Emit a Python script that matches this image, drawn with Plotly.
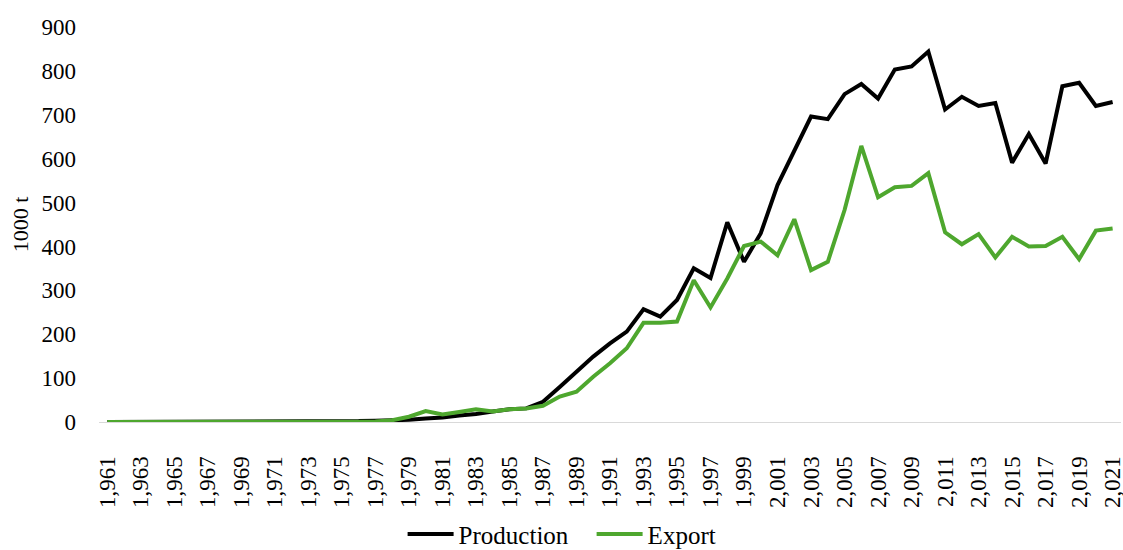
import plotly.graph_objects as go

years = list(range(1961, 2022))
tick_years = list(range(1961, 2022, 2))
tick_labels = [f"{y:,}" for y in tick_years]

production = [0, 0, 0, 0, 0, 0, 0, 0, 0, 0,
              0, 0, 0.5, 1, 2, 2, 3, 3, 5, 8,
              10, 15, 18, 24, 29, 31, 46, 80, 115, 149,
              179, 206, 257, 240, 278, 350, 328, 455, 365, 430,
              540, 620, 696, 690, 747, 770, 737, 803, 810, 844,
              712, 741, 720, 727, 591, 656, 589, 765, 773, 720,
              729]

export = [0, 0, 0, 0, 0, 0, 0, 0, 0, 0,
          0, 0, 0, 0, 0, 0, 1, 4, 12, 25,
          17, 23, 29, 24, 29, 31, 37, 58, 69, 103,
          134, 168, 226, 226, 229, 323, 261, 327, 401, 411,
          380, 462, 346, 365, 483, 629, 512, 535, 538, 567,
          432, 405, 428, 375, 422, 400, 401, 422, 371, 436,
          441]

y_ticks = [0, 100, 200, 300, 400, 500, 600, 700, 800, 900]

FONT = "Times New Roman, Liberation Serif, DejaVu Serif, serif"

fig = go.Figure()
fig.add_trace(go.Scatter(x=years, y=production, mode="lines", name="Production",
                         line=dict(color="#000000", width=4), cliponaxis=False))
fig.add_trace(go.Scatter(x=years, y=export, mode="lines", name="Export",
                         line=dict(color="#4EA72E", width=4), cliponaxis=False))

fig.update_layout(
    width=1123, height=550,
    margin=dict(l=99, r=2, t=27, b=128, autoexpand=False),
    paper_bgcolor="white", plot_bgcolor="white",
    font=dict(family=FONT, size=23, color="#000000"),
    showlegend=True,
    legend=dict(orientation="h", xref="paper", yref="paper",
                x=0.482, xanchor="center", y=-0.284, yanchor="middle",
                font=dict(family=FONT, size=25), itemwidth=46,
                entrywidth=128,
                bgcolor="rgba(0,0,0,0)"),
    xaxis=dict(range=[1960.5, 2021.5], tickvals=tick_years, ticktext=tick_labels,
               tickangle=-90, showgrid=False, zeroline=False,
               showline=True, linecolor="#d9d9d9", linewidth=1,
               ticks="", ticklabelstandoff=24, automargin=False,
               ticklabeloverflow="allow",
               tickfont=dict(family=FONT, size=23)),
    yaxis=dict(range=[0, 900], tickvals=y_ticks, showgrid=False, zeroline=False,
               showline=False, ticks="", ticklabelstandoff=22, automargin=False,
               tickfont=dict(family=FONT, size=23),
               title=dict(text="1000 t", standoff=6,
                          font=dict(family=FONT, size=22))),
)

fig.write_html(
    "out.html",
    config={"displayModeBar": False},
    post_script="document.body.style.margin='0';document.body.style.overflow='hidden';",
)
